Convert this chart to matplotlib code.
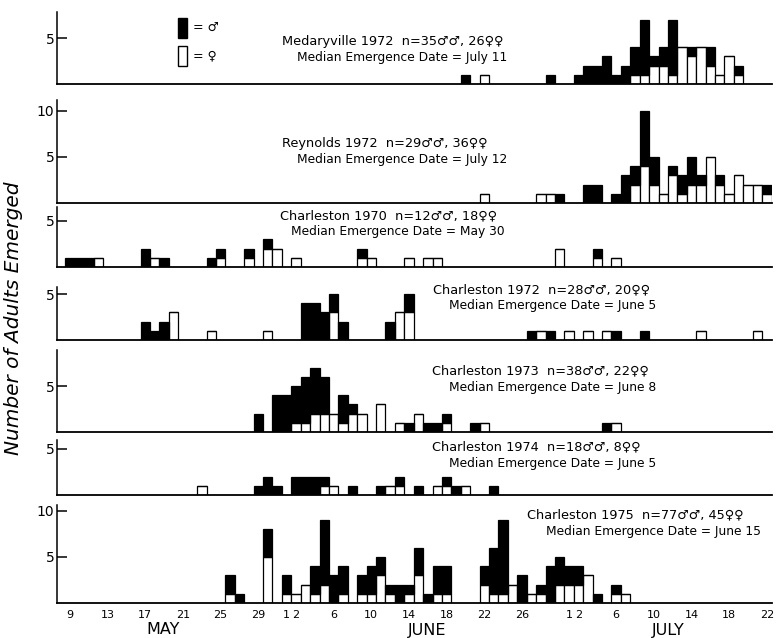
import matplotlib.pyplot as plt
from matplotlib.patches import Rectangle

plt.rcParams['font.family'] = ['DejaVu Sans']

MONTH_OFFSET = {'May': 0, 'Jun': 31, 'Jul': 61}


def day_num(s):
    m, d = s.split()
    return MONTH_OFFSET[m] + int(d)


# daily emergence counts: dates, males, females
med72_dates = ['Jun 20', 'Jun 22', 'Jun 29', 'Jul 2', 'Jul 3', 'Jul 4', 'Jul 5', 'Jul 6', 'Jul 7',
               'Jul 8', 'Jul 9', 'Jul 10', 'Jul 11', 'Jul 12', 'Jul 13', 'Jul 14', 'Jul 15',
               'Jul 16', 'Jul 17', 'Jul 18', 'Jul 19']
med72_m = [1, 0, 1, 1, 2, 2, 3, 1, 2, 3, 6, 1, 2, 6, 0, 1, 0, 2, 0, 0, 1]
med72_f = [0, 1, 0, 0, 0, 0, 0, 0, 0, 1, 1, 2, 2, 1, 4, 3, 4, 2, 1, 3, 1]

rey72_dates = ['Jun 22', 'Jun 28', 'Jun 29', 'Jun 30', 'Jul 3', 'Jul 4', 'Jul 6', 'Jul 7', 'Jul 8',
               'Jul 9', 'Jul 10', 'Jul 11', 'Jul 12', 'Jul 13', 'Jul 14', 'Jul 15', 'Jul 16',
               'Jul 17', 'Jul 18', 'Jul 19', 'Jul 20', 'Jul 21', 'Jul 22']
rey72_m = [0, 0, 0, 1, 2, 2, 1, 3, 2, 6, 3, 0, 1, 2, 3, 1, 0, 1, 0, 0, 0, 0, 1]
rey72_f = [1, 1, 1, 0, 0, 0, 0, 0, 2, 4, 2, 1, 3, 1, 2, 2, 5, 2, 1, 3, 2, 2, 1]

cha70_dates = ['May 9', 'May 10', 'May 11', 'May 12', 'May 17', 'May 18', 'May 19', 'May 24',
               'May 25', 'May 28', 'May 30', 'May 31', 'Jun 2', 'Jun 9', 'Jun 10', 'Jun 14',
               'Jun 16', 'Jun 17', 'Jun 30', 'Jul 4', 'Jul 6']
cha70_m = [1, 1, 1, 0, 2, 0, 1, 1, 1, 1, 1, 0, 0, 1, 0, 0, 0, 0, 0, 1, 0]
cha70_f = [0, 0, 0, 1, 0, 1, 0, 0, 1, 1, 2, 2, 1, 1, 1, 1, 1, 1, 2, 1, 1]

cha72_dates = ['May 17', 'May 18', 'May 19', 'May 20', 'May 24', 'May 30', 'Jun 3', 'Jun 4',
               'Jun 5', 'Jun 6', 'Jun 7', 'Jun 12', 'Jun 13', 'Jun 14', 'Jun 27', 'Jun 28',
               'Jun 29', 'Jul 1', 'Jul 3', 'Jul 5', 'Jul 6', 'Jul 9', 'Jul 15', 'Jul 21']
cha72_m = [2, 1, 2, 0, 0, 0, 4, 4, 3, 2, 2, 2, 0, 2, 1, 0, 1, 0, 0, 0, 1, 1, 0, 0]
cha72_f = [0, 0, 0, 3, 1, 1, 0, 0, 0, 3, 0, 0, 3, 3, 0, 1, 0, 1, 1, 1, 0, 0, 1, 1]

cha73_dates = ['May 29', 'May 31', 'Jun 1', 'Jun 2', 'Jun 3', 'Jun 4', 'Jun 5', 'Jun 6', 'Jun 7',
               'Jun 8', 'Jun 9', 'Jun 11', 'Jun 13', 'Jun 14', 'Jun 15', 'Jun 16', 'Jun 17',
               'Jun 18', 'Jun 21', 'Jun 22', 'Jul 5', 'Jul 6']
cha73_m = [2, 4, 4, 4, 5, 5, 4, 0, 3, 1, 0, 0, 0, 1, 0, 1, 1, 1, 1, 0, 1, 0]
cha73_f = [0, 0, 0, 1, 1, 2, 2, 2, 1, 2, 2, 3, 1, 0, 2, 0, 0, 1, 0, 1, 0, 1]

cha74_dates = ['May 23', 'May 29', 'May 30', 'May 31', 'Jun 2', 'Jun 3', 'Jun 4', 'Jun 5', 'Jun 6',
               'Jun 8', 'Jun 11', 'Jun 12', 'Jun 13', 'Jun 15', 'Jun 17', 'Jun 18', 'Jun 19',
               'Jun 20', 'Jun 23']
cha74_m = [0, 1, 2, 1, 2, 2, 2, 1, 0, 1, 1, 0, 1, 1, 0, 1, 1, 0, 1]
cha74_f = [1, 0, 0, 0, 0, 0, 0, 1, 1, 0, 0, 1, 1, 0, 1, 1, 0, 1, 0]

cha75_dates = ['May 26', 'May 27', 'May 30', 'Jun 1', 'Jun 2', 'Jun 3', 'Jun 4', 'Jun 5', 'Jun 6',
               'Jun 7', 'Jun 9', 'Jun 10', 'Jun 11', 'Jun 12', 'Jun 13', 'Jun 14', 'Jun 15',
               'Jun 16', 'Jun 17', 'Jun 18', 'Jun 22', 'Jun 23', 'Jun 24', 'Jun 25', 'Jun 26',
               'Jun 27', 'Jun 28', 'Jun 29', 'Jun 30', 'Jul 1', 'Jul 2', 'Jul 3', 'Jul 4',
               'Jul 6', 'Jul 7']
cha75_m = [2, 1, 3, 2, 0, 0, 3, 7, 3, 3, 2, 3, 2, 1, 2, 1, 3, 1, 3, 3, 2, 5, 8, 0, 3, 0, 1, 4,
           3, 2, 2, 0, 1, 1, 0]
cha75_f = [1, 0, 5, 1, 1, 2, 1, 2, 0, 1, 1, 1, 3, 1, 0, 1, 3, 0, 1, 1, 2, 1, 1, 2, 0, 1, 1, 0,
           2, 2, 2, 3, 0, 1, 1]

titles = ['Medaryville 1972  n=35\u2642\u2642, 26\u2640\u2640',
          'Reynolds 1972  n=29\u2642\u2642, 36\u2640\u2640',
          'Charleston 1970  n=12\u2642\u2642, 18\u2640\u2640',
          'Charleston 1972  n=28\u2642\u2642, 20\u2640\u2640',
          'Charleston 1973  n=38\u2642\u2642, 22\u2640\u2640',
          'Charleston 1974  n=18\u2642\u2642, 8\u2640\u2640',
          'Charleston 1975  n=77\u2642\u2642, 45\u2640\u2640']
medians = ['July 11', 'July 12', 'May 30', 'June 5', 'June 8', 'June 5', 'June 15']

tick_days = ['May 9', 'May 13', 'May 17', 'May 21', 'May 25', 'May 29', 'Jun 1', 'Jun 2', 'Jun 6',
             'Jun 10', 'Jun 14', 'Jun 18', 'Jun 22', 'Jun 26', 'Jul 1', 'Jul 2', 'Jul 6',
             'Jul 10', 'Jul 14', 'Jul 18', 'Jul 22']

panels = [(med72_dates, med72_m, med72_f), (rey72_dates, rey72_m, rey72_f),
          (cha70_dates, cha70_m, cha70_f), (cha72_dates, cha72_m, cha72_f),
          (cha73_dates, cha73_m, cha73_f), (cha74_dates, cha74_m, cha74_f),
          (cha75_dates, cha75_m, cha75_f)]

W, H = 777, 638
fig = plt.figure(figsize=(W / 100, H / 100), dpi=100)


def fx(x):
    return x / W


def fy(y):
    return 1 - y / H


# pixel layout of each panel: (axis top, baseline), y ticks, title anchor
frames = [(12, 84), (100, 203), (207, 267), (287, 340), (350, 432), (440, 495), (505, 603)]
yticks = [[5], [5, 10], [5], [5], [5], [5], [5, 10]]
text_pos = [(282, 42, 297), (282, 143, 297), (280, 216, 291), (433, 290, 449),
            (432, 371, 449), (432, 447, 449), (527, 515, 546)]
unit = 9.2
x_left, x_right = 57, 772
xlo, xhi = 7.62, 83.55

for i, (dates, males, females) in enumerate(panels):
    top, base = frames[i]
    ax = fig.add_axes([fx(x_left), fy(base), fx(x_right - x_left), (base - top) / H])
    x = [day_num(d) for d in dates]
    ax.bar(x, females, width=1, color='white', edgecolor='black', linewidth=0.9)
    ax.bar(x, males, bottom=females, width=1, color='black', edgecolor='black', linewidth=0.9)
    ax.set_xlim(xlo, xhi)
    ax.set_ylim(0, (base - top) / unit)
    for s in ['top', 'right']:
        ax.spines[s].set_visible(False)
    ax.spines['left'].set_linewidth(1.1)
    ax.spines['bottom'].set_linewidth(1.3)
    ax.set_yticks(yticks[i])
    ax.tick_params(axis='y', direction='in', length=7, width=1.1, labelsize=10, pad=2)
    if i < len(panels) - 1:
        ax.set_xticks([])
    else:
        ax.set_xticks([day_num(d) for d in tick_days])
        ax.set_xticklabels([d.split()[1] for d in tick_days], fontsize=8)
        ax.tick_params(axis='x', length=0, pad=5)
    tx, ty, mx = text_pos[i]
    fig.text(fx(tx), fy(ty), titles[i], fontsize=9.3, va='center', ha='left')
    fig.text(fx(mx), fy(ty + 16), 'Median Emergence Date = ' + medians[i],
             fontsize=8.8, va='center', ha='left')

# sex key
fig.patches.append(Rectangle((fx(178), fy(38)), 9 / W, 20 / H, transform=fig.transFigure,
                             facecolor='black', edgecolor='black', linewidth=1))
fig.patches.append(Rectangle((fx(178), fy(66)), 9 / W, 20 / H, transform=fig.transFigure,
                             facecolor='white', edgecolor='black', linewidth=1))
fig.text(fx(193), fy(27), '= \u2642', fontsize=9, va='center')
fig.text(fx(193), fy(56), '= \u2640', fontsize=9, va='center')

for name, px in [('MAY', 163), ('JUNE', 427), ('JULY', 668)]:
    fig.text(fx(px), fy(630), name, fontsize=11.5, ha='center', va='center')

fig.text(fx(14), fy(318), 'Number of Adults Emerged', fontsize=14.5, style='italic',
         rotation=90, ha='center', va='center')

fig.savefig('out.png', dpi=100)
